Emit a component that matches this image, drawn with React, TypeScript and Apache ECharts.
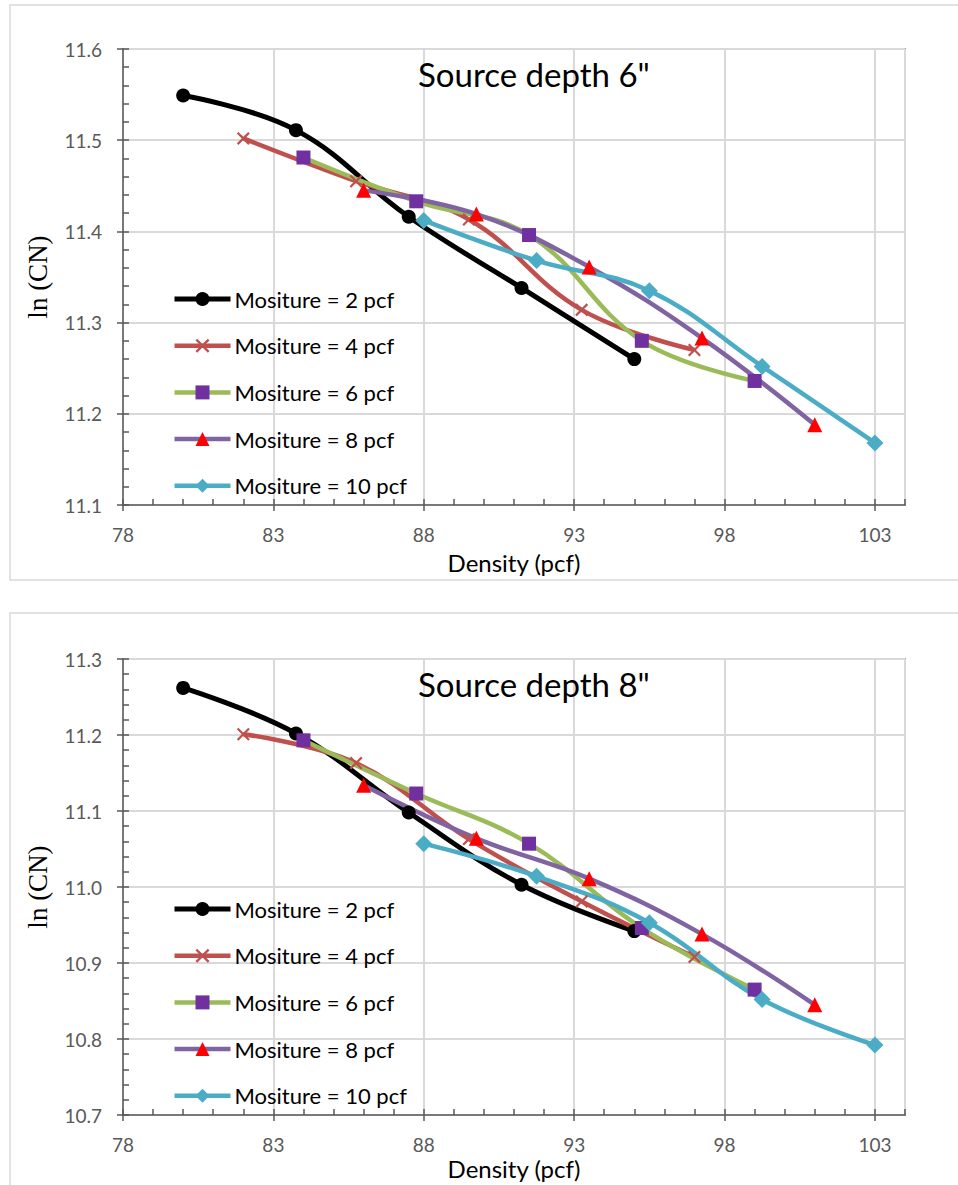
import React, { useEffect, useRef } from "react";
import * as echarts from "echarts";

// Density (pcf) for each moisture series
const density2 = [80, 83.75, 87.5, 91.25, 95];
const density4 = [82, 85.75, 89.5, 93.25, 97];
const density6 = [84, 87.75, 91.5, 95.25, 99];
const density8 = [86, 89.75, 93.5, 97.25, 101];
const density10 = [88, 91.75, 95.5, 99.25, 103];

// ln(CN), source depth 6"
const depth6_m2 = [11.549, 11.511, 11.416, 11.338, 11.26];
const depth6_m4 = [11.502, 11.455, 11.413, 11.314, 11.27];
const depth6_m6 = [11.481, 11.433, 11.396, 11.28, 11.236];
const depth6_m8 = [11.445, 11.419, 11.361, 11.283, 11.188];
const depth6_m10 = [11.412, 11.368, 11.335, 11.252, 11.168];

// ln(CN), source depth 8"
const depth8_m2 = [11.262, 11.202, 11.098, 11.003, 10.942];
const depth8_m4 = [11.201, 11.163, 11.063, 10.981, 10.908];
const depth8_m6 = [11.193, 11.123, 11.057, 10.946, 10.865];
const depth8_m8 = [11.134, 11.064, 11.011, 10.938, 10.845];
const depth8_m10 = [11.057, 11.014, 10.953, 10.852, 10.792];

const seriesNames = [
  "Mositure = 2 pcf",
  "Mositure = 4 pcf",
  "Mositure = 6 pcf",
  "Mositure = 8 pcf",
  "Mositure = 10 pcf",
];
const chartTitles = ['Source depth 6"', 'Source depth 8"'];
const xMin = 78;
const xMax = 104;
const xStep = 5;
const yRanges = [
  [11.1, 11.6],
  [10.7, 11.3],
];
const yStep = 0.1;

const X_SYMBOL =
  "path://M0,1.2 L1.2,0 L5,3.8 L8.8,0 L10,1.2 L6.2,5 L10,8.8 L8.8,10 L5,6.2 L1.2,10 L0,8.8 L3.8,5 Z";

const styles = [
  { line: "#000000", marker: "#000000", symbol: "circle", size: 14, width: 5 },
  { line: "#C0504D", marker: "#C0504D", symbol: X_SYMBOL, size: 13, width: 4.5 },
  { line: "#9BBB59", marker: "#7030A0", symbol: "rect", size: 14, width: 4.5 },
  { line: "#8064A2", marker: "#FF0000", symbol: "triangle", size: 15, width: 4.5 },
  { line: "#4BACC6", marker: "#4BACC6", symbol: "diamond", size: 17, width: 4.5 },
];

const densities = [density2, density4, density6, density8, density10];
const chartValues = [
  [depth6_m2, depth6_m4, depth6_m6, depth6_m8, depth6_m10],
  [depth8_m2, depth8_m4, depth8_m6, depth8_m8, depth8_m10],
];

export default function App() {
  const ref = useRef<HTMLDivElement>(null);
  useEffect(() => {
    if (!ref.current) return;
    const chart = echarts.init(ref.current, null, { renderer: "svg" });
    const font = "Lato";
    const gridTops = [49, 659];
    const grids = gridTops.map((t) => ({
      left: 123,
      top: t,
      width: 782,
      height: 456,
      show: true,
      borderColor: "#595959",
      borderWidth: 1.5,
      backgroundColor: "transparent",
    }));

    const xAxes: any[] = [];
    const yAxes: any[] = [];
    const series: any[] = [];
    const legends: any[] = [];
    const titles: any[] = [];
    const nameGaps = [45, 41];
    const tickStyle = { color: "#595959", width: 1.5 };

    [0, 1].forEach((g) => {
      xAxes.push({
        type: "value",
        gridIndex: g,
        position: "bottom",
        min: xMin,
        max: xMax,
        interval: xStep,
        name: "Density (pcf)",
        nameLocation: "middle",
        nameGap: nameGaps[g],
        nameTextStyle: { fontFamily: font, fontSize: 24, color: "#000" },
        axisLine: { show: true, lineStyle: tickStyle },
        axisTick: { show: true, inside: false, length: 6, lineStyle: tickStyle },
        axisLabel: {
          show: true,
          margin: 20,
          showMaxLabel: false,
          fontFamily: font,
          fontSize: 19,
          color: "#595959",
        },
        splitLine: { show: true, lineStyle: { color: "#D9D9D9", width: 2 } },
      });
      xAxes.push({
        type: "value",
        gridIndex: g,
        position: "bottom",
        min: xMin,
        max: xMax,
        interval: 1,
        axisLine: { show: false },
        axisTick: { show: true, inside: true, length: 6, lineStyle: tickStyle },
        axisLabel: { show: false },
        splitLine: { show: false },
      });
      yAxes.push({
        type: "value",
        gridIndex: g,
        position: "left",
        min: yRanges[g][0],
        max: yRanges[g][1],
        interval: yStep,
        name: "ln (CN)",
        nameLocation: "middle",
        nameGap: 72,
        nameTextStyle: { fontFamily: "Liberation Serif", fontSize: 27, color: "#000" },
        axisLine: { show: true, lineStyle: tickStyle },
        axisTick: { show: true, inside: false, length: 6, lineStyle: tickStyle },
        axisLabel: {
          show: true,
          margin: 21,
          fontFamily: font,
          fontSize: 19,
          color: "#595959",
          formatter: (v: number) => v.toFixed(1),
        },
        splitLine: { show: true, lineStyle: { color: "#D9D9D9", width: 2 } },
      });
      yAxes.push({
        type: "value",
        gridIndex: g,
        position: "left",
        min: yRanges[g][0],
        max: yRanges[g][1],
        interval: 0.02,
        axisLine: { show: false },
        axisTick: { show: true, inside: true, length: 6, lineStyle: tickStyle },
        axisLabel: { show: false },
        splitLine: { show: false },
      });

      seriesNames.forEach((name, i) => {
        const st = styles[i];
        series.push({
          type: "line",
          name,
          xAxisIndex: g * 2,
          yAxisIndex: g * 2,
          smooth: 0.4,
          data: densities[i].map((x, k) => [x, chartValues[g][i][k]]),
          symbol: st.symbol,
          symbolSize: st.size,
          showAllSymbol: true,
          lineStyle: { color: st.line, width: st.width },
          itemStyle: { color: st.marker, borderWidth: 0 },
          emphasis: { disabled: true },
        });
      });

      legends.push({
        orient: "vertical",
        left: 172,
        top: gridTops[g] + 239,
        padding: 0,
        itemWidth: 56,
        itemHeight: 17.5,
        itemGap: 24.7,
        data: seriesNames,
        lineStyle: { width: "inherit" },
        textStyle: { fontFamily: font, fontSize: 22, color: "#000", lineHeight: 20, padding: [0, 0, 0, -1] },
        selectedMode: false,
      });

      titles.push({
        text: chartTitles[g],
        left: 418,
        top: gridTops[g] + 8,
        padding: 0,
        textStyle: { fontFamily: font, fontSize: 33, fontWeight: "normal", color: "#000" },
      });
    });

    chart.setOption({
      animation: false,
      backgroundColor: "#ffffff",
      title: titles,
      grid: grids,
      xAxis: xAxes,
      yAxis: yAxes,
      legend: legends,
      series,
      graphic: [
        {
          type: "rect",
          shape: { x: 10, y: 5, width: 960, height: 575 },
          style: { fill: "none", stroke: "#D9D9D9", lineWidth: 1.5 },
          silent: true,
        },
        {
          type: "rect",
          shape: { x: 10, y: 613, width: 960, height: 600 },
          style: { fill: "none", stroke: "#D9D9D9", lineWidth: 1.5 },
          silent: true,
        },
      ],
    });
    return () => chart.dispose();
  }, []);
  return (
    <div
      ref={ref}
      style={{ position: "absolute", left: 0, top: 0, width: 958, height: 1185 }}
    />
  );
}
